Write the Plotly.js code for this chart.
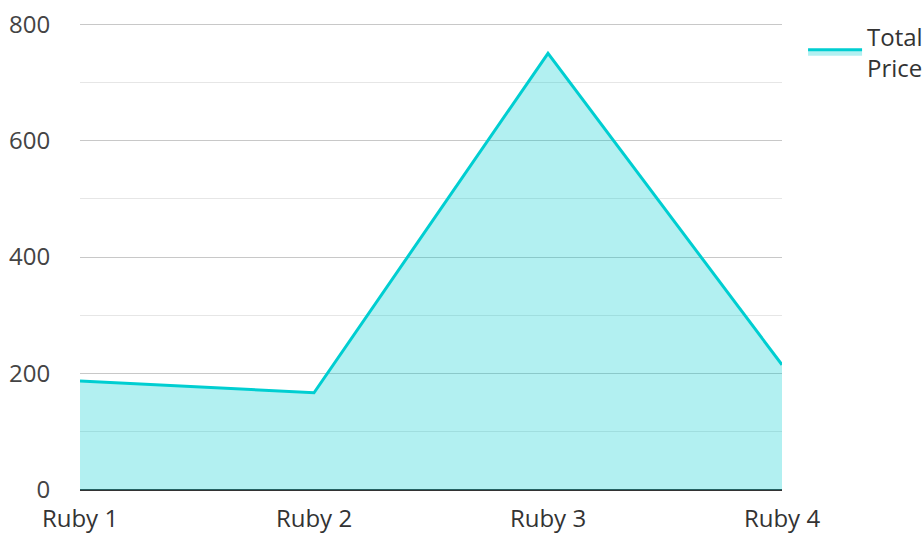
<!DOCTYPE html>
<html>
<head>
<meta charset="utf-8">
<script src="https://cdn.plot.ly/plotly-3.0.1.min.js"></script>
<style>html,body{margin:0;padding:0;background:#fff;}#chart{width:924px;height:533px;}</style>
</head>
<body>
<div id="chart"></div>
<script>
const categories = ["Ruby 1", "Ruby 2", "Ruby 3", "Ruby 4"];
const totalPrice = [187, 167, 750, 215];
const seriesName = "Total<br>Price";
const yTicks = [0, 200, 400, 600, 800];

const trace = {
  x: categories,
  y: totalPrice,
  type: "scatter",
  mode: "lines",
  name: seriesName,
  fill: "tozeroy",
  fillcolor: "rgba(0,206,209,0.3)",
  line: {color: "#00CED1", width: 3}
};

const layout = {
  width: 924,
  height: 533,
  margin: {l: 80, r: 142, t: 23, b: 43, autoexpand: false},
  paper_bgcolor: "#fff",
  plot_bgcolor: "#fff",
  font: {family: "Open Sans, sans-serif", size: 24, color: "#444"},
  showlegend: true,
  legend: {x: 1.03, y: 1.019, xanchor: "left", yanchor: "top", font: {size: 24, color: "#333"}, itemwidth: 54},
  xaxis: {
    type: "category",
    range: [0, 3],
    showgrid: false,
    ticks: "outside",
    ticklen: 7,
    tickcolor: "rgba(0,0,0,0)",
    tickfont: {size: 24, color: "#333"},
    showline: false,
    zeroline: false
  },
  yaxis: {
    range: [0, 802],
    tickvals: yTicks,
    ticks: "outside",
    ticklen: 24,
    tickcolor: "rgba(0,0,0,0)",
    showgrid: true,
    gridcolor: "#c8c8c8",
    gridwidth: 1,
    minor: {dtick: 100, showgrid: true, gridcolor: "#e6e6e6", gridwidth: 1},
    zeroline: true,
    zerolinecolor: "#333",
    zerolinewidth: 2,
    tickfont: {size: 24, color: "#444"},
    showline: false
  }
};

Plotly.newPlot("chart", [trace], layout, {displayModeBar: false, staticPlot: true});
</script>
</body>
</html>
